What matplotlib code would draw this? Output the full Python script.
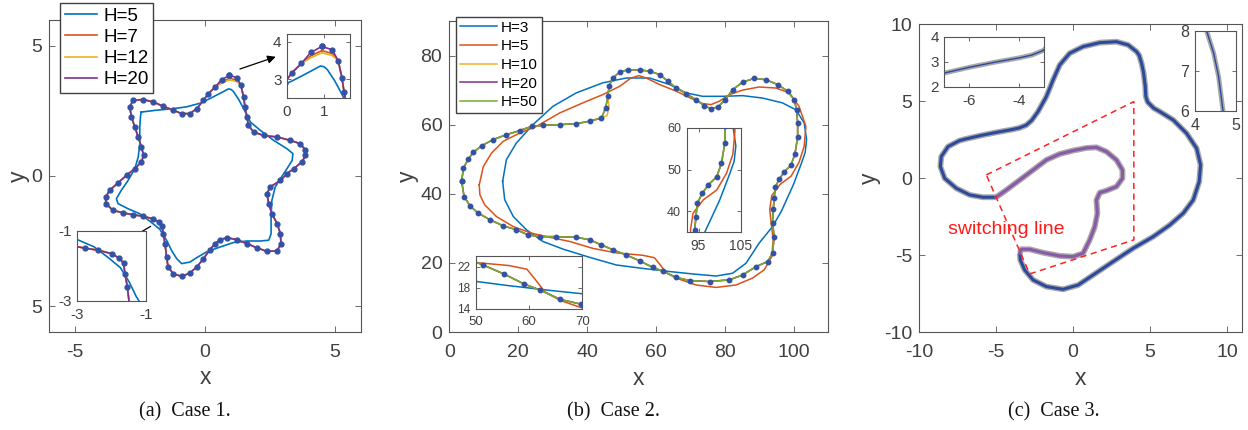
import matplotlib
matplotlib.use('Agg')
import matplotlib.pyplot as plt

plt.rcParams['font.family'] = ['Liberation Sans', 'DejaVu Sans']
plt.rcParams['axes.unicode_minus'] = False

# ---------------- case 1 (star) ----------------
star_x = [0.94, 1.22, 1.38, 1.48, 1.54, 1.61, 1.67, 1.87, 2.25, 2.77, 3.28, 3.67, 3.86, 3.86, 3.73,
          3.41, 3.15, 2.90, 2.51, 2.38, 2.45, 2.57, 2.77, 2.90, 2.92, 2.77, 2.38, 1.99, 1.61, 1.22,
          0.84, 0.58, 0.39, 0.19, -0.06, -0.32, -0.58, -0.90, -1.22, -1.42, -1.48, -1.54, -1.61,
          -1.65, -1.77, -1.99, -2.38, -2.77, -3.15, -3.54, -3.82, -3.82, -3.67, -3.35, -3.02, -2.70,
          -2.45, -2.36, -2.45, -2.57, -2.70, -2.83, -2.90, -2.77, -2.38, -1.99, -1.61, -1.22, -0.90,
          -0.58, -0.32, -0.06, 0.13, 0.39, 0.64, 0.94]
star_y = [3.87, 3.78, 3.49, 3.04, 2.65, 2.27, 1.95, 1.69, 1.56, 1.50, 1.37, 1.24, 0.99, 0.79, 0.54,
          0.28, 0.09, -0.17, -0.42, -0.68, -1.06, -1.45, -1.83, -2.22, -2.60, -2.88, -2.90, -2.76,
          -2.60, -2.45, -2.37, -2.45, -2.60, -2.83, -3.18, -3.50, -3.73, -3.86, -3.76, -3.50, -3.12,
          -2.60, -2.22, -1.92, -1.78, -1.65, -1.55, -1.49, -1.42, -1.32, -1.06, -0.81, -0.55, -0.27,
          0.03, 0.28, 0.54, 0.79, 1.12, 1.50, 1.88, 2.27, 2.65, 2.91, 2.94, 2.85, 2.68, 2.53, 2.40,
          2.40, 2.59, 2.91, 3.17, 3.42, 3.71, 3.87]
# H=7 / H=12 sit on the star except around the upper lobe
h7_y = list(star_y)
h7_y[0] = h7_y[-1] = 3.76
h7_y[1] = 3.68
h7_y[-2] = 3.62
h12_y = list(star_y)
h12_y[0] = h12_y[-1] = 3.70
h12_y[1] = 3.63
h12_y[-2] = 3.57

h5a_x = [-2.45, -1.87, -1.22, -0.71, -0.19, 0.19, 0.58, 0.90, 1.00, 1.09, 1.29, 1.48, 1.74, 2.12,
         2.64, 3.15, 3.38, 3.35, 3.15, 2.90, 2.70, 2.57, 2.54, 2.54, 2.45, 2.12, 1.61, 1.09, 0.58,
         0.06, -0.32, -0.58, -0.90, -1.09, -1.29, -1.48, -1.74, -2.12, -2.51, -2.96, -3.35, -3.41,
         -3.22, -2.96, -2.70, -2.57, -2.51, -2.51, -2.48, -2.45]
h5a_y = [2.46, 2.53, 2.59, 2.66, 2.80, 2.98, 3.18, 3.35, 3.33, 3.25, 2.95, 2.60, 2.08, 1.76, 1.37,
         1.05, 0.86, 0.60, 0.28, -0.10, -0.42, -0.94, -1.58, -2.22, -2.47, -2.50, -2.50, -2.56,
         -2.73, -2.92, -3.14, -3.31, -3.37, -3.18, -2.86, -2.47, -2.05, -1.74, -1.45, -1.26, -1.06,
         -0.87, -0.55, -0.17, 0.28, 0.73, 1.24, 1.88, 2.33, 2.46]

# ---------------- case 2 (blob) ----------------
main2_x = [3.6, 4.1, 5.5, 7.0, 9.4, 12.8, 16.6, 20.5, 23.9, 27.2, 32.1, 36.9, 40.8, 44.2, 45.4, 46.1,
           46.4, 47.5, 49.5, 51.9, 55.3, 58.2, 61.1, 63.5, 65.9, 68.8, 71.7, 74.1, 76.0, 78.0, 80.2,
           82.3, 85.2, 88.6, 92.0, 95.4, 98.3, 100.2, 100.9, 101.2, 101.2, 100.4, 99.3, 97.3, 95.9,
           94.7, 94.4, 94.1, 93.9, 94.4, 93.9, 92.5, 89.1, 85.2, 81.4, 75.6, 69.8, 65.9, 62.0, 59.1,
           55.3, 51.4, 47.5, 44.2, 40.8, 36.9, 31.1, 26.3, 22.9, 19.5, 15.7, 11.8, 8.4, 6.0, 4.3, 3.6]
main2_y = [43.6, 47.4, 50.0, 52.0, 53.9, 55.7, 57.1, 58.3, 59.5, 59.8, 60.0, 60.3, 61.0, 61.9, 64.8,
           68.2, 71.1, 73.5, 75.2, 75.9, 75.8, 75.5, 74.5, 72.6, 70.6, 69.0, 67.2, 65.5, 64.6, 65.1,
           67.2, 70.1, 72.3, 73.4, 73.0, 71.6, 69.7, 67.2, 64.3, 60.5, 56.3, 51.5, 48.3, 46.3, 44.3,
           41.9, 38.7, 35.5, 31.5, 27.6, 22.8, 20.4, 18.9, 16.5, 15.1, 14.6, 14.9, 15.8, 17.6, 18.7,
           20.6, 22.3, 23.8, 25.2, 26.7, 27.4, 27.6, 27.6, 28.1, 29.6, 30.7, 32.5, 34.4, 36.5, 39.2,
           43.6]
h10_x = list(main2_x)
h10_x[13] = 45.8
h10_x[14] = 46.4
h10_y = list(main2_y)
h10_y[13] = 62.6

h3_x = [15.5, 16.6, 19.5, 24.3, 30.1, 36.9, 44.6, 51.4, 58.2, 64.0, 68.8, 73.6, 79.4, 85.2, 91.0,
        96.8, 100.7, 103.1, 103.8, 103.4, 102.4, 100.0, 96.5, 93.9, 90.0, 86.2, 82.3, 77.5, 70.7,
        64.0, 56.2, 48.5, 40.8, 33.0, 27.2, 22.4, 18.6, 16.1, 15.5]
h3_y = [43.6, 49.9, 54.7, 60.0, 65.3, 69.2, 72.1, 73.5, 73.5, 71.6, 69.2, 68.2, 68.2, 68.4, 67.7,
        66.3, 64.3, 60.5, 55.7, 52.0, 49.1, 42.7, 35.0, 30.5, 25.7, 19.9, 17.0, 16.2, 16.8, 17.5,
        18.4, 19.4, 21.6, 24.0, 26.2, 29.6, 33.4, 38.3, 43.6]

h5b_x = [8.7, 9.9, 12.3, 15.7, 20.5, 25.3, 32.1, 38.8, 44.6, 49.5, 52.8, 55.1, 57.2, 61.1, 65.9,
         70.7, 73.6, 76.0, 78.5, 81.4, 85.2, 90.0, 94.9, 98.8, 101.6, 103.6, 103.1, 101.6, 99.3,
         96.1, 93.7, 93.1, 93.4, 94.1, 93.7, 91.5, 88.1, 83.3, 77.5, 71.7, 65.9, 63.0, 61.3, 59.6,
         56.2, 48.5, 41.7, 35.0, 29.2, 23.9, 18.6, 13.7, 10.3, 8.9, 8.7]
h5b_y = [42.6, 47.9, 51.8, 55.2, 57.6, 59.5, 63.4, 66.3, 68.7, 71.1, 73.5, 74.2, 73.5, 71.6, 69.7,
         67.4, 66.1, 65.8, 66.8, 68.7, 70.0, 70.9, 70.6, 69.2, 65.3, 59.5, 53.7, 49.1, 45.1, 42.7,
         39.5, 35.5, 32.5, 26.7, 21.8, 18.0, 15.6, 13.6, 12.9, 13.6, 15.6, 17.2, 19.4, 21.5, 22.2,
         22.9, 24.2, 26.2, 27.4, 28.6, 30.5, 33.4, 36.8, 39.7, 42.6]

# ---------------- case 3 ----------------
outer3_x = [-5.01, -5.86, -6.72, -7.59, -8.35, -8.63, -8.57, -8.13, -7.38, -7.0, -6.0, -5.0, -4.0,
            -3.5, -3.05, -2.70, -2.28, -1.74, -1.30, -0.87, -0.22, 0.65, 1.74, 2.82, 3.58, 4.12,
            4.29, 4.46, 4.58, 4.69, 4.73, 4.85, 5.25, 5.64, 6.51, 7.38, 8.03, 8.29, 8.20, 7.81,
            7.16, 6.29, 5.21, 3.90, 2.60, 1.30, 0.33, -0.65, -1.74, -2.60, -3.15, -3.43, -3.47]
outer3_y = [-1.23, -1.23, -1.08, -0.65, 0.0, 0.76, 1.41, 2.06, 2.45, 2.55, 2.78, 2.98, 3.16, 3.27,
            3.45, 3.75, 4.33, 5.30, 6.39, 7.36, 8.12, 8.55, 8.81, 8.87, 8.66, 8.23, 8.0, 7.45, 6.87,
            6.0, 5.30, 4.95, 4.55, 4.33, 3.79, 2.92, 1.95, 0.87, -0.22, -1.41, -2.27, -3.03, -3.79,
            -4.55, -5.41, -6.28, -6.93, -7.21, -7.03, -6.60, -5.95, -5.30, -4.87]
inner3_x = [-5.01, -4.34, -3.47, -2.60, -1.74, -0.87, 0.0, 0.87, 1.52, 2.17, 2.82, 3.21, 3.21, 2.82,
            2.17, 1.74, 1.52, 1.58, 1.41, 1.08, 0.65, 0.0, -0.87, -1.95, -2.82, -3.36, -3.47]
inner3_y = [-1.23, -0.76, -0.11, 0.54, 1.19, 1.58, 1.80, 1.97, 2.01, 1.73, 1.19, 0.54, 0.0, -0.54,
            -0.80, -0.93, -1.41, -2.27, -3.14, -4.00, -4.87, -5.09, -5.04, -4.83, -4.61, -4.61, -4.87]
switch_x = [-5.64, 3.95, 3.95, -2.82, -5.64]
switch_y = [0.22, 4.98, -4.0, -6.21, 0.22]

BLUE, ORANGE, YELLOW, PURPLE, GREEN = '#0072BD', '#D95319', '#EDB120', '#7E2F8E', '#77AC30'
DOT = '#3352A6'
DARKBLUE = '#2C4A9C'
VIOLET = '#8A5AA8'
GRAY = '#A9A9A9'


def style(ax, fs, ticklen=4, xpad=8.5, ypad=5):
    for s in ax.spines.values():
        s.set_color('#555555')
        s.set_linewidth(0.8)
    ax.tick_params(direction='in', top=True, right=True, length=ticklen, width=0.6,
                   color='#555555', labelcolor='#404040', labelsize=fs)
    ax.tick_params(axis='x', pad=xpad)
    ax.tick_params(axis='y', pad=ypad)


def labels(ax, xpos, ypos):
    ax.set_xlabel('x', fontsize=16.5, color='#404040')
    ax.set_ylabel('y', fontsize=16.5, color='#404040')
    ax.xaxis.set_label_coords(*xpos)
    ax.yaxis.set_label_coords(*ypos)
    ax.xaxis.label.set_va('center')
    ax.yaxis.label.set_va('center')


def case1(ax, lw, ms):
    ax.plot(h5a_x, h5a_y, color=BLUE, lw=lw, label='H=5')
    ax.plot(star_x, h7_y, color=ORANGE, lw=lw, label='H=7')
    ax.plot(star_x, h12_y, color=YELLOW, lw=lw, label='H=12')
    ax.plot(star_x, star_y, color=PURPLE, lw=lw, label='H=20')
    ax.plot(star_x, star_y, 'o', ms=ms, color=DOT, zorder=5)


def case2(ax, lw, ms):
    ax.plot(h3_x, h3_y, color=BLUE, lw=lw, label='H=3')
    ax.plot(h5b_x, h5b_y, color=ORANGE, lw=lw, label='H=5')
    ax.plot(h10_x, h10_y, color=YELLOW, lw=lw, label='H=10')
    ax.plot(main2_x, main2_y, color=PURPLE, lw=lw, label='H=20')
    ax.plot(main2_x, main2_y, color=GREEN, lw=lw, label='H=50')
    ax.plot(main2_x, main2_y, 'o', ms=ms, color=DOT, zorder=5)


def case3(ax, glw, blw, inner=True):
    ax.plot(outer3_x, outer3_y, color=GRAY, lw=glw, solid_capstyle='butt')
    ax.plot(outer3_x, outer3_y, color=DARKBLUE, lw=blw)
    if inner:
        ax.plot(inner3_x, inner3_y, color=GRAY, lw=glw, solid_capstyle='butt')
        ax.plot(inner3_x, inner3_y, color=VIOLET, lw=blw)


fig = plt.figure(figsize=(12.48, 4.30), dpi=100)

# ---- (a) ----
axa = fig.add_axes([0.0393, 0.2279, 0.25, 0.7256])
case1(axa, 1.2, 3.5)
axa.set_xlim(-6, 6)
axa.set_ylim(-6, 6)
axa.set_xticks([-5, 0, 5])
axa.set_yticks([-5, 0, 5])
axa.set_yticklabels(['5', '0', '5'])
style(axa, 14)
labels(axa, (0.5, -0.147), (-0.099, 0.5))
axa.legend(loc='upper left', bbox_to_anchor=(0.035, 1.055), borderaxespad=0, fontsize=13.5,
           frameon=True, fancybox=False, framealpha=1, edgecolor='#404040', borderpad=0.25,
           labelspacing=0.22, handlelength=1.75, handletextpad=0.3)
axa.annotate('', xy=(2.82, 4.62), xytext=(1.24, 4.08),
             arrowprops=dict(arrowstyle='-|>', color='k', lw=0.9, mutation_scale=12))
axa.annotate('', xy=(-3.17, -2.58), xytext=(-2.0, -1.88),
             arrowprops=dict(arrowstyle='-|>', color='k', lw=0.9, mutation_scale=12))

ia1 = fig.add_axes([0.2300, 0.7721, 0.0505, 0.1488])
case1(ia1, 1.2, 3.5)
ia1.set_xlim(0, 1.7)
ia1.set_ylim(2.5, 4.2)
ia1.set_xticks([0, 1])
ia1.set_yticks([3, 4])
style(ia1, 11, 3, 5, 4)

ia2 = fig.add_axes([0.0617, 0.3000, 0.0553, 0.1628])
case1(ia2, 1.2, 3.5)
ia2.set_xlim(-3, -1)
ia2.set_ylim(-3, -1)
ia2.set_xticks([-3, -1])
ia2.set_yticks([-3, -1])
style(ia2, 11, 3, 5, 4)

# ---- (b) ----
axb = fig.add_axes([0.3600, 0.2279, 0.3034, 0.7233])
case2(axb, 1.1, 3.2)
axb.set_xlim(0, 110)
axb.set_ylim(0, 90)
axb.set_xticks([0, 20, 40, 60, 80, 100])
axb.set_yticks([0, 20, 40, 60, 80])
style(axb, 14)
labels(axb, (0.5, -0.148), (-0.111, 0.5))
axb.legend(loc='upper left', bbox_to_anchor=(0.018, 1.013), borderaxespad=0, fontsize=11,
           frameon=True, fancybox=False, framealpha=1, edgecolor='#404040', borderpad=0.25,
           labelspacing=0.3, handlelength=2.4, handletextpad=0.3)

ib1 = fig.add_axes([0.5502, 0.4605, 0.0435, 0.2419])
case2(ib1, 1.1, 3.2)
ib1.set_xlim(92.2, 105)
ib1.set_ylim(35, 60)
ib1.set_xticks([95, 105])
ib1.set_yticks([40, 50, 60])
style(ib1, 10, 3, 5, 4)
ib1.tick_params(axis='y', labelsize=9)

ib2 = fig.add_axes([0.3812, 0.2814, 0.0854, 0.1233])
case2(ib2, 1.1, 3.2)
ib2.set_xlim(50, 70)
ib2.set_ylim(14, 24)
ib2.set_xticks([50, 60, 70])
ib2.set_yticks([14, 18, 22])
style(ib2, 9.5, 3, 5, 4)
ib2.tick_params(axis='y', labelsize=8.5)

# ---- (c) ----
axc = fig.add_axes([0.7366, 0.2272, 0.2588, 0.7163])
case3(axc, 4.2, 2.2)
axc.plot(switch_x, switch_y, color='#FF2020', lw=1.1, ls=(0, (4, 3)))
axc.text(-8.13, -3.35, 'switching line', color='#FF1A1A', fontsize=14, va='center', ha='left')
axc.set_xlim(-10, 11)
axc.set_ylim(-10, 10)
axc.set_xticks([-10, -5, 0, 5, 10])
axc.set_yticks([-10, -5, 0, 5, 10])
style(axc, 14)
labels(axc, (0.5, -0.149), (-0.153, 0.5))

ic1 = fig.add_axes([0.7567, 0.7984, 0.0799, 0.1156])
case3(ic1, 3.5, 1.0, inner=False)
ic1.set_xlim(-7, -3)
ic1.set_ylim(2, 4)
ic1.set_xticks([-6, -4])
ic1.set_yticks([2, 3, 4])
style(ic1, 11, 3, 5, 4)

ic2 = fig.add_axes([0.9575, 0.7419, 0.0326, 0.1853])
case3(ic2, 3.5, 1.0, inner=False)
ic2.set_xlim(4, 5)
ic2.set_ylim(6, 8)
ic2.set_xticks([4, 5])
ic2.set_yticks([6, 7, 8])
style(ic2, 11.5, 3, 5, 4)

# captions
for xc, txt in [(0.1482, '(a)  Case 1.'), (0.4912, '(b)  Case 2.'), (0.8446, '(c)  Case 3.')]:
    fig.text(xc, 0.0419, txt, family=['Liberation Serif', 'DejaVu Serif'], fontsize=14.5,
             ha='center', va='center', color='#111111')

fig.savefig('out.png', dpi=100)
